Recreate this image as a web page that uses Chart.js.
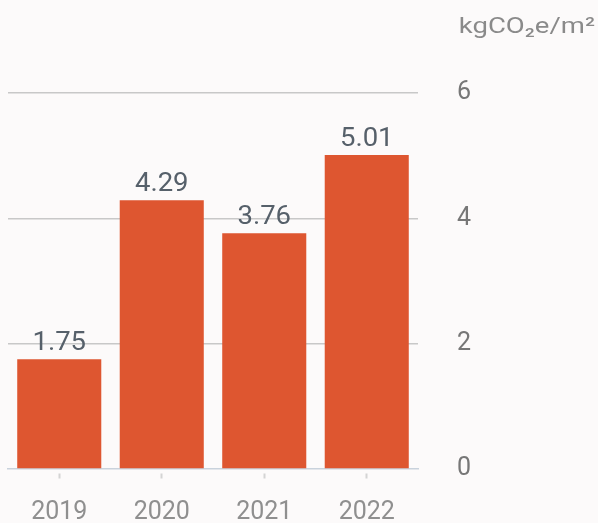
<!DOCTYPE html>
<html>
<head>
<meta charset="utf-8">
<script src="https://cdn.jsdelivr.net/npm/chart.js@4"></script>
<style>
  html, body { margin: 0; padding: 0; background: #fcfafa; }
  #wrap { width: 598px; height: 523px; }
</style>
</head>
<body>
<div id="wrap"><canvas id="intensityChart" width="598" height="523"></canvas></div>
<script>
// 年度與排放強度數據
const years = ['2019', '2020', '2021', '2022'];
const intensity = [1.75, 4.29, 3.76, 5.01];
const yTicks = [0, 2, 4, 6];
const unitLabel = 'kgCO₂e/m²';

// 寫一段稍微橫向拉寬的文字
function drawWideText(ctx, text, x, y, stretch) {
    ctx.save();
    ctx.translate(x, y);
    ctx.scale(stretch, 1);
    ctx.fillText(text, 0, 0);
    ctx.restore();
}

// 在每根長條上方寫出數值，右上角寫單位
const barValueLabels = {
    id: 'barValueLabels',
    afterDatasetsDraw(chart) {
        const { ctx } = chart;
        const meta = chart.getDatasetMeta(0);
        ctx.save();
        ctx.font = '25px Roboto';
        ctx.fillStyle = '#56606a';
        ctx.textAlign = 'center';
        ctx.textBaseline = 'alphabetic';
        meta.data.forEach((bar, i) => {
            drawWideText(ctx, intensity[i].toFixed(2), bar.x, bar.y - 9, 1.1);
        });

        ctx.font = '22px Roboto';
        ctx.fillStyle = '#8a8a8a';
        ctx.textAlign = 'right';
        drawWideText(ctx, unitLabel, chart.width - 3, 33, 1.25);
        ctx.restore();
    }
};

document.addEventListener('DOMContentLoaded', () => {
    const ctx = document.getElementById('intensityChart').getContext('2d');

    new Chart(ctx, {
        type: 'bar',
        data: {
            labels: years,
            datasets: [{
                data: intensity,
                backgroundColor: '#de5630',
                barPercentage: 0.82,
                categoryPercentage: 1.0
            }]
        },
        options: {
            responsive: false,
            animation: false,
            layout: { padding: { left: 8, right: 0, top: 93, bottom: 0 } },
            plugins: {
                legend: { display: false },
                tooltip: { enabled: false }
            },
            scales: {
                x: {
                    afterFit(scale) {
                        scale.height = 53;
                    },
                    grid: {
                        offset: false,
                        drawOnChartArea: false,
                        drawTicks: true,
                        tickLength: 10,
                        tickWidth: 2,
                        tickColor: '#d4d4d4',
                        tickBorderDash: [0, 4, 5, 50]
                    },
                    border: { display: true, color: '#c9d2dc', width: 1.5 },
                    ticks: {
                        color: '#8f8f8f',
                        font: { family: 'Roboto', size: 25 },
                        padding: 19
                    }
                },
                y: {
                    position: 'right',
                    min: 0,
                    max: 6,
                    afterBuildTicks(scale) {
                        scale.ticks = yTicks.map(v => ({ value: v }));
                    },
                    afterFit(scale) {
                        scale.width = 180;
                    },
                    grid: {
                        drawTicks: false,
                        color: ctx => ctx.tick && ctx.tick.value === 0 ? 'rgba(0,0,0,0)' : '#c8c8c8',
                        lineWidth: 1.5
                    },
                    border: { display: false },
                    ticks: {
                        color: '#777777',
                        font: { family: 'Roboto', size: 25 },
                        padding: 39
                    }
                }
            }
        },
        plugins: [barValueLabels]
    });
});
</script>
</body>
</html>
